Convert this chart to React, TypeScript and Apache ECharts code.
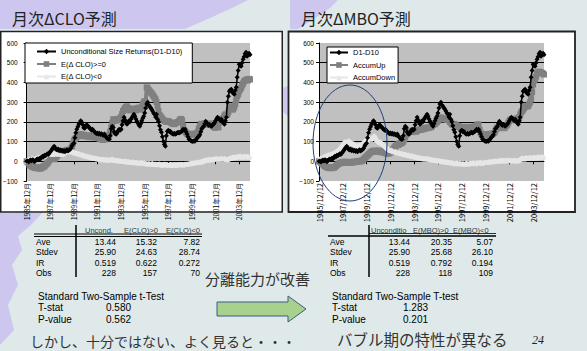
import React, { useEffect, useRef } from "react";
import * as echarts from "echarts";

// Cumulative returns (%), 228 monthly observations from 1985/12
const sizeReturns = [
  0, 2, -4, 3, 6, 1, 8, 5, -2, 4, 9, 12,
  8, 15, 12, 20, 26, 22, 30, 28, 33, 38, 35, 42,
  48, 55, 62, 70, 76, 68, 60, 57, 62, 54, 58, 52,
  56, 50, 55, 48, 53, 58, 52, 56, 60, 66, 78, 86,
  92, 120, 145, 162, 175, 188, 196, 205, 198, 185, 170, 168,
  178, 185, 180, 175, 168, 165, 158, 162, 155, 150, 145, 140,
  143, 138, 142, 136, 140, 135, 132, 138, 128, 122, 116, 112,
  112, 130, 165, 178, 172, 150, 140, 137, 145, 155, 162, 158,
  162, 185, 205, 223, 210, 195, 188, 195, 205, 200, 213, 222,
  230, 238, 228, 215, 203, 195, 185, 178, 190, 205, 218, 228,
  245, 270, 290, 299, 285, 279, 272, 264, 255, 245, 238, 225,
  238, 213, 200, 180, 160, 147, 125, 100, 85, 76, 130, 152,
  158, 150, 152, 145, 140, 137, 142, 137, 140, 145, 147, 144,
  147, 150, 155, 162, 158, 162, 150, 138, 125, 112, 108, 104,
  102, 100, 104, 102, 108, 115, 122, 127, 135, 150, 165, 172,
  178, 190, 203, 196, 188, 182, 186, 180, 178, 185, 188, 196,
  205, 215, 223, 218, 213, 205, 213, 200, 195, 188, 205, 223,
  299, 330, 355, 362, 365, 350, 345, 340, 360, 375, 426, 460,
  492, 485, 482, 500, 518, 530, 545, 553, 533, 540, 548, 540,
];

const cloUp = [
  0, -5, -10, -18, -22, -25, -30, -28, -32, -35, -30, -33,
  -35, -38, -32, -36, -30, -25, -28, -20, -15, -10, -5, 5,
  15, 20, 18, 12, 10, 15, 22, 28, 35, 40, 45, 48,
  50, 45, 52, 48, 55, 58, 52, 56, 60, 65, 75, 90,
  105, 112, 118, 125, 130, 127, 135, 138, 132, 128, 135, 130,
  125, 128, 132, 127, 122, 125, 130, 127, 124, 120, 125, 128,
  122, 118, 115, 112, 115, 110, 108, 112, 115, 118, 112, 120,
  135, 150, 172, 195, 213, 210, 205, 213, 215, 208, 212, 218,
  225, 240, 255, 262, 270, 275, 279, 270, 262, 258, 264, 268,
  264, 260, 262, 258, 265, 270, 272, 266, 262, 275, 290, 299,
  305, 298, 375, 370, 362, 355, 350, 345, 338, 330, 322, 315,
  300, 280, 255, 235, 228, 222, 215, 210, 205, 203, 200, 205,
  203, 200, 198, 195, 192, 190, 188, 192, 195, 198, 200, 205,
  213, 215, 208, 180, 160, 152, 145, 140, 137, 135, 138, 140,
  137, 135, 138, 140, 137, 142, 150, 165, 178, 188, 190, 185,
  188, 192, 190, 186, 188, 190, 185, 188, 192, 180, 175, 172,
  170, 175, 180, 172, 198, 205, 210, 215, 220, 230, 238, 235,
  238, 250, 265, 279, 270, 262, 264, 275, 290, 310, 330, 340,
  355, 365, 372, 385, 395, 406, 410, 412, 416, 410, 418, 415,
];

const cloDown = [
  0, 5, 8, 10, 6, 12, 15, 10, 8, 14, 18, 15,
  20, 22, 18, 25, 28, 30, 26, 32, 35, 38, 40, 36,
  40, 42, 38, 35, 40, 44, 42, 38, 36, 40, 42, 38,
  35, 38, 42, 45, 48, 52, 50, 47, 50, 55, 52, 48,
  45, 42, 44, 40, 38, 40, 36, 34, 32, 35, 30, 28,
  26, 28, 24, 22, 25, 20, 18, 20, 16, 15, 18, 14,
  12, 15, 10, 12, 8, 10, 12, 9, 6, 8, 10, 7,
  5, 8, 10, 12, 8, 6, 5, 8, 4, 2, 5, 3,
  0, 2, -2, 0, 3, -1, -3, 0, -2, -5, -3, -4,
  -2, -5, -8, -6, -4, -8, -10, -7, -5, -8, -6, -10,
  -8, -12, -10, -14, -10, -12, -15, -12, -10, -14, -16, -13,
  -15, -18, -14, -12, -15, -18, -20, -16, -13, -17, -15, -18,
  -20, -17, -15, -18, -22, -19, -16, -18, -20, -17, -15, -18,
  -16, -14, -17, -19, -16, -13, -15, -12, -14, -10, -12, -8,
  -10, -7, -9, -5, -8, -4, -6, -2, -4, 0, -3, 2,
  5, 3, 8, 6, 10, 7, 12, 9, 8, 12, 10, 14,
  12, 15, 13, 10, 14, 12, 16, 13, 11, 15, 12, 10,
  8, 12, 15, 18, 14, 20, 24, 20, 18, 22, 26, 22,
  25, 28, 24, 20, 23, 27, 25, 22, 26, 24, 21, 25,
];

const mboUp = [
  0, -3, -8, -12, -15, -20, -25, -28, -30, -33, -30, -35,
  -32, -35, -30, -33, -28, -25, -20, -15, -12, -8, -10, -5,
  -3, -6, -2, -5, -8, -4, -6, -3, -5, -8, -4, -2,
  -5, -2, 0, -3, 2, -1, 3, 0, 5, 10, 15, 20,
  25, 30, 35, 40, 45, 48, 52, 50, 55, 52, 48, 50,
  55, 52, 48, 45, 50, 47, 42, 45, 40, 38, 42, 40,
  45, 50, 55, 62, 70, 76, 80, 85, 82, 88, 92, 90,
  95, 100, 110, 122, 135, 148, 152, 150, 155, 150, 152, 148,
  152, 155, 150, 155, 160, 158, 162, 160, 165, 162, 168, 165,
  170, 168, 172, 170, 175, 172, 178, 185, 190, 188, 195, 200,
  205, 212, 220, 223, 218, 215, 213, 218, 213, 210, 213, 208,
  200, 195, 188, 185, 190, 188, 185, 180, 175, 178, 172, 170,
  172, 175, 170, 172, 168, 172, 170, 175, 172, 168, 170, 172,
  175, 178, 172, 182, 188, 185, 160, 145, 137, 135, 130, 135,
  137, 132, 135, 138, 137, 140, 135, 138, 142, 145, 155, 165,
  172, 170, 168, 172, 175, 170, 172, 168, 175, 180, 185, 195,
  205, 210, 213, 208, 212, 215, 210, 213, 218, 215, 225, 238,
  249, 255, 262, 270, 279, 278, 282, 279, 290, 300, 315, 350,
  390, 410, 416, 430, 445, 452, 455, 450, 452, 448, 445, 440,
];

const mboDown = [
  10, 12, 15, 18, 20, 22, 25, 28, 30, 32, 35, 30,
  35, 38, 40, 42, 45, 48, 50, 55, 60, 65, 70, 78,
  85, 92, 100, 98, 95, 100, 105, 100, 95, 90, 92, 88,
  80, 78, 82, 76, 80, 84, 80, 85, 90, 95, 100, 105,
  110, 108, 115, 118, 112, 115, 120, 125, 130, 120, 110, 105,
  100, 95, 98, 92, 88, 85, 80, 75, 70, 65, 62, 58,
  55, 58, 52, 50, 48, 52, 46, 44, 42, 45, 40, 38,
  40, 36, 35, 38, 33, 30, 34, 29, 27, 30, 26, 24,
  26, 22, 20, 23, 18, 17, 20, 15, 17, 13, 15, 12,
  14, 16, 12, 10, 13, 8, 10, 6, 8, 5, 7, 3,
  5, 2, 4, 0, 2, -2, 0, -3, -1, -5, -2, -6,
  -4, -8, -5, -10, -7, -12, -9, -6, -10, -13, -8, -11,
  -14, -10, -12, -15, -11, -8, -12, -14, -10, -7, -11, -9,
  -6, -9, -12, -8, -5, -9, -7, -4, -8, -10, -6, -3,
  -5, -2, -6, -3, 0, -4, -1, 2, -2, 1, 4, 0,
  2, 5, 1, 4, 7, 3, 6, 2, 5, 8, 4, 6,
  3, 7, 4, 1, 5, 8, 4, 2, 6, 3, 7, 10,
  14, 18, 15, 12, 16, 20, 17, 14, 18, 22, 18, 15,
  18, 22, 19, 16, 20, 24, 21, 18, 22, 25, 20, 23,
];

const START_YEAR = 1985;
const START_MONTH = 12;

const monthAt = (i: number) => {
  const t = START_MONTH - 1 + i;
  return { y: START_YEAR + Math.floor(t / 12), m: (t % 12) + 1 };
};
const jpMonths = sizeReturns.map((_, i) => {
  const { y, m } = monthAt(i);
  return `${y}年${m}月`;
});
const slashDates = sizeReturns.map((_, i) => {
  const { y, m } = monthAt(i);
  return `${y}/${m}/12`;
});

const cloNames = ["Unconditional Size Returns(D1-D10)", "E(Δ CLO)>=0", "E(Δ CLO)<0"];
const mboNames = ["D1-D10", "AccumUp", "AccumDown"];

const statRows = ["Ave", "Stdev", "IR", "Obs"];
const cloHeaders = ["Uncond.", "E(CLO)>0", "E(CLO)<0"];
const cloStats = [
  ["13.44", "15.32", "7.82"],
  ["25.90", "24.63", "28.74"],
  ["0.519", "0.622", "0.272"],
  ["228", "157", "70"],
];
const mboHeaders = ["Unconditio", "E(MBO)>0", "E(MBO)<0"];
const mboStats = [
  ["13.44", "20.35", "5.07"],
  ["25.90", "25.68", "26.10"],
  ["0.519", "0.792", "0.194"],
  ["228", "118", "109"],
];
const cloTest = ["Standard Two-Sample t-Test", "0.580", "0.562"];
const mboTest = ["Standard Two-Sample T-test", "1.283", "0.201"];

const SANS = "'Liberation Sans', Arial, sans-serif";
const JP = "'Noto Sans CJK JP', sans-serif";

function seriesSet(names: string[], data: number[][], gi: number) {
  const looks = [
    { color: "#808080", symbol: "rect", size: 6, width: 4, z: 2 },
    { color: "#e6e6e6", symbol: "triangle", size: 5, width: 4, z: 3 },
    { color: "#000000", symbol: "diamond", size: 5, width: 1.5, z: 4 },
  ];
  // order: grey underneath, light in the middle, black on top
  const idx = [1, 2, 0];
  return idx.map((k, j) => ({
    type: "line",
    name: names[k],
    xAxisIndex: gi,
    yAxisIndex: gi,
    data: data[k],
    symbol: looks[j].symbol,
    symbolSize: looks[j].size,
    showAllSymbol: true,
    z: looks[j].z,
    itemStyle: { color: looks[j].color, borderWidth: 0 },
    lineStyle: { color: looks[j].color, width: looks[j].width },
    emphasis: { disabled: true },
  }));
}

function xAxisFor(gi: number, cats: string[], fontSize: number) {
  return {
    type: "category",
    gridIndex: gi,
    data: cats,
    boundaryGap: false,
    axisLine: { onZero: true, lineStyle: { color: "#000", width: 1 } },
    axisTick: { interval: 23, length: 3, lineStyle: { color: "#000" } },
    axisLabel: {
      interval: 23,
      rotate: 90,
      fontSize,
      margin: 2,
      color: "#000",
      fontFamily: JP,
    },
    splitLine: { show: false },
  };
}

function yAxisFor(gi: number, margin: number) {
  return {
    type: "value",
    gridIndex: gi,
    min: -100,
    max: 600,
    interval: 100,
    axisLine: { show: true, lineStyle: { color: "#000" } },
    axisTick: { show: true, length: 3, lineStyle: { color: "#000" } },
    axisLabel: {
      fontSize: 6.5,
      margin,
      color: "#000",
      fontFamily: SANS,
      formatter: (v: number) => (v < 0 ? "\u2212" + Math.abs(v) : String(v)),
    },
    splitLine: {
      show: true,
      showMinLine: false,
      showMaxLine: false,
      lineStyle: { color: "#000", width: 1 },
    },
  };
}

function legendFor(names: string[], left: number, top: number, padding: number[], itemWidth: number) {
  return {
    orient: "vertical",
    left,
    top,
    data: names,
    selectedMode: false,
    backgroundColor: "#ffffff",
    borderColor: "#000",
    borderWidth: 1,
    borderRadius: 0,
    padding,
    itemWidth,
    itemHeight: 7,
    itemGap: 3.5,
    textStyle: { fontSize: 7.5, color: "#000", fontFamily: SANS, lineHeight: 9 },
  };
}

type Pos = {
  label: number; cols: number[]; heads: number[]; vline: number;
  lineFrom: number; lineTo: number; underline?: number[];
  testX: number; valX: number;
};

function tableGraphics(headers: string[], stats: string[][], test: string[], p: Pos) {
  const els: any[] = [];
  const txt = (text: string, x: number, y: number, size: number, align = "left", fill = "#000") =>
    els.push({
      type: "text", x, y, z: 20,
      style: { text, font: `${size}px ${SANS}`, fill, textAlign: align, textVerticalAlign: "middle" },
    });
  headers.forEach((h, i) => txt(h, p.heads[i], 230, 7.5, "left", "#333"));
  if (p.underline) {
    els.push({ type: "line", z: 20, shape: { x1: p.underline[0], y1: 233.5, x2: p.underline[1], y2: 233.5 }, style: { stroke: "#000", lineWidth: 0.8 } });
    els.push({ type: "line", z: 20, shape: { x1: p.lineFrom, y1: 236, x2: p.lineTo, y2: 236 }, style: { stroke: "#000", lineWidth: 1.5 } });
  } else {
    els.push({ type: "line", z: 20, shape: { x1: p.lineFrom, y1: 234, x2: p.lineTo, y2: 234 }, style: { stroke: "#000", lineWidth: 1 } });
    els.push({ type: "line", z: 20, shape: { x1: p.lineFrom, y1: 236.5, x2: p.lineTo, y2: 236.5 }, style: { stroke: "#000", lineWidth: 1 } });
  }
  els.push({ type: "line", z: 20, shape: { x1: p.vline, y1: 225, x2: p.vline, y2: 277 }, style: { stroke: "#000", lineWidth: 1.5 } });
  statRows.forEach((r, i) => {
    const y = 241.5 + i * 10.5;
    txt(r, p.label, y, 8.5);
    stats[i].forEach((v, j) => txt(v, p.cols[j], y, 8.5, "right"));
  });
  txt(test[0], p.testX, 296, 10);
  txt("T-stat", p.testX, 307.5, 10);
  txt(test[1], p.valX, 307.5, 10);
  txt("P-value", p.testX, 319, 10);
  txt(test[2], p.valX, 319, 10);
  return els;
}

const lavender = "#cdc7ef";

export default function App() {
  const ref = useRef<HTMLDivElement>(null);

  useEffect(() => {
    if (!ref.current) return;
    const chart = echarts.init(ref.current, undefined, { renderer: "svg" });

    const backdrop: any[] = [
      { type: "polygon", z: -2, shape: { points: [[0, 0], [248, 0], [232, 8], [210, 18], [185, 29], [0, 29]] }, style: { fill: lavender } },
      { type: "polygon", z: -2, shape: { points: [[290, 0], [338, 0], [330, 8], [312, 20], [298, 29], [290, 29]] }, style: { fill: lavender } },
      { type: "polygon", z: -2, shape: { points: [[0, 213], [42, 213], [32, 224], [18, 236], [22, 250], [12, 265], [18, 285], [8, 305], [14, 330], [0, 345]] }, style: { fill: lavender } },
      { type: "polygon", z: -2, shape: { points: [[282, 88], [288, 86], [288, 116], [283, 112]] }, style: { fill: lavender } },
      { type: "rect", z: -1, shape: { x: 0.75, y: 31.5, width: 281.5, height: 180.5 }, style: { fill: "#ffffff", stroke: "#222", lineWidth: 1.5 } },
      { type: "rect", z: -1, shape: { x: 288.5, y: 31.5, width: 286.5, height: 180.5 }, style: { fill: "#ffffff", stroke: "#222", lineWidth: 1.8 } },
    ];

    const overlay: any[] = [
      { type: "ellipse", z: 30, shape: { cx: 350, cy: 143, rx: 37, ry: 58 }, style: { fill: "none", stroke: "#1f3f78", lineWidth: 1 } },
      {
        type: "polygon", z: 20,
        shape: { points: [[217, 302], [288, 302], [288, 296], [306, 309], [288, 322], [288, 316], [217, 316]] },
        style: { fill: "#a9d18e", stroke: "#3a5a85", lineWidth: 1 },
      },
      { type: "text", z: 20, x: 205, y: 278.5, style: { text: "分離能力が改善", font: `15px ${JP}`, fill: "#333", textVerticalAlign: "middle" } },
      { type: "text", z: 20, x: 30, y: 341, style: { text: "しかし、十分ではない、よく見ると・・・", font: `14px ${JP}`, fill: "#333", textVerticalAlign: "middle" } },
      { type: "text", z: 20, x: 337, y: 339, style: { text: "バブル期の特性が異なる", font: `15.5px ${JP}`, fill: "#333", textVerticalAlign: "middle" } },
      { type: "text", z: 20, x: 532, y: 340, style: { text: "24", font: `italic 12px 'Liberation Serif', serif`, fill: "#222", textVerticalAlign: "middle" } },
      ...tableGraphics(cloHeaders, cloStats, cloTest, {
        label: 36, cols: [116, 157, 200], heads: [85, 124, 166], vline: 76,
        lineFrom: 34, lineTo: 202, testX: 38, valX: 106,
      }),
      ...tableGraphics(mboHeaders, mboStats, mboTest, {
        label: 330, cols: [410, 452, 493], heads: [371, 413, 453], vline: 369,
        lineFrom: 328, lineTo: 496, underline: [369, 496], testX: 332, valX: 403,
      }),
    ];

    chart.setOption({
      animation: false,
      backgroundColor: "#dfe9ea",
      textStyle: { fontFamily: SANS },
      title: [
        { text: "月次ΔCLO予測", left: 12, top: 10, padding: 0, textStyle: { fontSize: 16, fontWeight: "normal", color: "#222", fontFamily: JP } },
        { text: "月次ΔMBO予測", left: 301, top: 10, padding: 0, textStyle: { fontSize: 16, fontWeight: "normal", color: "#222", fontFamily: JP } },
      ],
      grid: [
        { left: 25, top: 43, width: 225, height: 138, show: true, backgroundColor: "#c0c0c0", borderWidth: 0, z: 0 },
        { left: 319, top: 43, width: 225, height: 138, show: true, backgroundColor: "#c0c0c0", borderWidth: 0, z: 0 },
      ],
      xAxis: [xAxisFor(0, jpMonths, 7), xAxisFor(1, slashDates, 7.5)],
      yAxis: [yAxisFor(0, 9), yAxisFor(1, 5)],
      legend: [
        legendFor(cloNames, 25, 43, [4, 10, 2, 11], 19),
        legendFor(mboNames, 327, 47, [1, 3, 1, 2], 18),
      ],
      series: [
        ...seriesSet(cloNames, [sizeReturns, cloUp, cloDown], 0),
        ...seriesSet(mboNames, [sizeReturns, mboUp, mboDown], 1),
      ],
      graphic: { elements: [...backdrop, ...overlay] },
    });

    return () => chart.dispose();
  }, []);

  return <div ref={ref} style={{ position: "fixed", left: 0, top: 0, width: 587, height: 351 }} />;
}
